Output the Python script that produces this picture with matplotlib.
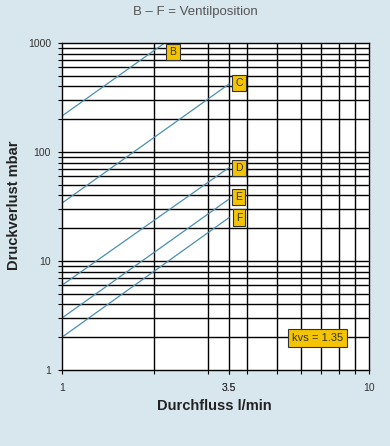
import matplotlib.pyplot as plt
from matplotlib.ticker import FixedLocator, NullFormatter, NullLocator

plt.rcParams['font.family'] = ['Liberation Sans', 'DejaVu Sans']

# valve position lines (flow l/min, pressure loss mbar)
positions = ['B', 'C', 'D', 'E', 'F']
flow = {'B': [1, 2.16], 'C': [1, 3.5], 'D': [1, 3.5], 'E': [1, 3.5], 'F': [1, 3.5]}
dp = {'B': [214, 1000], 'C': [34, 420], 'D': [6, 72], 'E': [3, 37], 'F': [2, 25]}
label_x = [2.30, 3.77, 3.77, 3.77, 3.77]
label_y = [830, 430, 71, 38.6, 25]

x_grid = [2, 3, 3.5, 4, 5, 6, 7, 8, 9]
x_ticks = [1, 3.5, 10]
x_ticklabels = ['1', '3.5', '10']
y_ticks = [1, 10, 100, 1000]
y_minor = [m * d for d in [1, 10, 100] for m in range(2, 10)]

bg = '#d8e6ee'
line_col = '#4a8fb0'
box_col = '#f5c400'

fig = plt.figure(figsize=(3.9, 4.46), dpi=100, facecolor=bg)
ax = fig.add_axes([0.159, 0.1704, 0.787, 0.7332])
ax.set_facecolor('white')
ax.set_xscale('log')
ax.set_yscale('log')
ax.set_xlim(1, 10)
ax.set_ylim(1, 1000)

# grid
for gx in x_grid:
    ax.axvline(gx, color='black', lw=1.0, zorder=1)
for gy in y_ticks[1:-1] + y_minor:
    ax.axhline(gy, color='black', lw=1.0, zorder=1)

for p in positions:
    ax.plot(flow[p], dp[p], color=line_col, lw=0.9, zorder=2)

for p, lx, ly in zip(positions, label_x, label_y):
    ax.text(lx, ly, p, ha='center', va='center', fontsize=7.5, color='#333333', zorder=4,
            bbox=dict(boxstyle='square,pad=0.3', fc=box_col, ec='#333333', lw=0.8))

ax.text(6.82, 1.97, 'kvs = 1.35', ha='center', va='center', fontsize=8, color='#333333', zorder=4,
        bbox=dict(boxstyle='square,pad=0.35', fc=box_col, ec='#333333', lw=0.8))

# ticks
ax.xaxis.set_major_locator(FixedLocator(x_ticks + x_grid))
ax.set_xticklabels([x_ticklabels[x_ticks.index(t)] if t in x_ticks else '' for t in x_ticks + x_grid])
ax.xaxis.set_minor_locator(NullLocator())
ax.yaxis.set_major_locator(FixedLocator(y_ticks))
ax.set_yticklabels([str(t) for t in y_ticks])
ax.yaxis.set_minor_locator(FixedLocator(y_minor))
ax.yaxis.set_minor_formatter(NullFormatter())
ax.tick_params(axis='both', which='both', direction='out', length=3, width=0.8,
               labelsize=7.5, labelcolor='#333333', color='black')
ax.tick_params(axis='x', pad=6)
ax.tick_params(axis='y', pad=5)
for s in ax.spines.values():
    s.set_linewidth(1.0)

fig.text(0.5, 0.972, 'B – F = Ventilposition', ha='center', va='center', fontsize=9.5, color='#555555')
fig.text(0.036, 0.54, 'Druckverlust mbar', rotation=90, ha='center', va='center',
         fontsize=10.5, fontweight='bold', color='#222222')
fig.text(0.55, 0.09, 'Durchfluss l/min', ha='center', va='center',
         fontsize=10.5, fontweight='bold', color='#222222')

fig.savefig('out.png', dpi=100, facecolor=bg)
